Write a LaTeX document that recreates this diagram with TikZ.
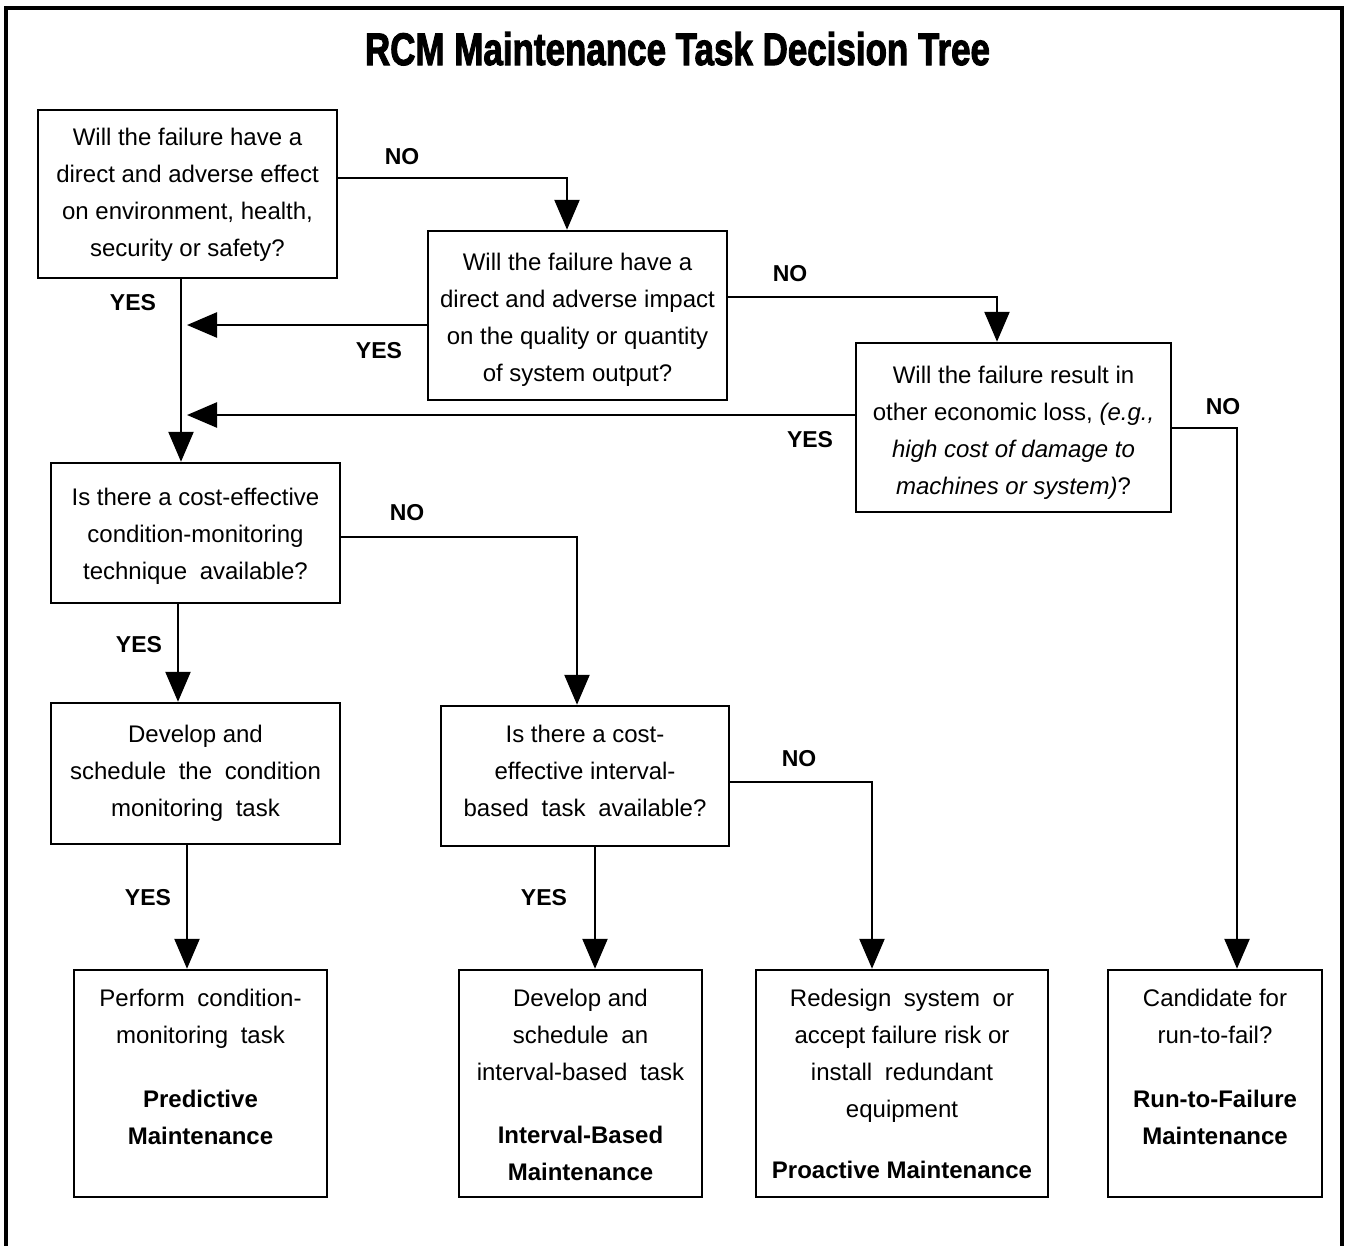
\documentclass[tikz,border=0pt]{standalone}
\usepackage{fontspec}
\setmainfont{Liberation Sans}
\newfontfamily\titlefont{Liberation Sans}[FakeBold=2.5]
\usetikzlibrary{arrows.meta}
\newcommand{\xs}{\hspace{6pt}\space}
\begin{document}
\begin{tikzpicture}[x=1pt,y=-1pt,
  box/.style={draw,line width=2.5pt,inner sep=0pt},
  txt/.style={font=\fontsize{24}{37}\selectfont,align=center,inner sep=0pt,anchor=north},
  lbl/.style={font=\fontsize{23}{23}\selectfont\bfseries,inner sep=0pt},
  arr/.style={line width=2.5pt,-{Triangle[length=30pt,width=25pt]}},
  conn/.style={line width=2.5pt}]
\useasboundingbox (0,0) rectangle (1348,1245);
% frame
\draw[line width=4.5pt,miter limit=10] (6,1260) -- (6,8) -- (1342,8) -- (1342,1260);
% title
\node[inner sep=0pt,anchor=base] (title) at (677.5,65)
  {\resizebox{625pt}{33pt}{\titlefont\bfseries RCM Maintenance Task Decision Tree}};
% boxes
\node[box,minimum width=299pt,minimum height=168pt] (b1) at (187.5,194) {};
\node[box,minimum width=299pt,minimum height=169pt] (b2) at (577.5,315.5) {};
\node[box,minimum width=315pt,minimum height=169pt] (b3) at (1013.5,427.5) {};
\node[box,minimum width=289pt,minimum height=140pt] (b4) at (195.5,533) {};
\node[box,minimum width=289pt,minimum height=141pt] (b5) at (195.5,773.5) {};
\node[box,minimum width=288pt,minimum height=140pt] (b6) at (585,776) {};
\node[box,minimum width=253pt,minimum height=227pt] (b7) at (200.5,1083.5) {};
\node[box,minimum width=243pt,minimum height=227pt] (b8) at (580.5,1083.5) {};
\node[box,minimum width=292pt,minimum height=227pt] (b9) at (902,1083.5) {};
\node[box,minimum width=214pt,minimum height=227pt] (b10) at (1215,1083.5) {};
% texts
\node[txt] (t1) at (187.5,119) {\strut Will the failure have a\\direct and adverse effect\\on environment, health,\\security or safety?};
\node[txt] (t2) at (577.5,244) {\strut Will the failure have a\\direct and adverse impact\\on the quality or quantity\\of system output?};
\node[txt] (t3) at (1013.5,357) {\strut Will the failure result in\\other economic loss, \textit{(e.g.,}\\\textit{high cost of damage to}\\\textit{machines or system)}?};
\node[txt] (t4) at (195.5,479) {\strut Is there a cost-effective\\condition-monitoring\\technique\xs available?};
\node[txt] (t5) at (195.5,716) {\strut Develop and\\schedule\xs the\xs condition\\monitoring\xs task};
\node[txt] (t6) at (585,716) {\strut Is there a cost-\\effective interval-\\based\xs task\xs available?};
\node[txt] (t7) at (200.5,980) {\strut Perform\xs condition-\\monitoring\xs task\\[27pt]\textbf{Predictive}\\\textbf{Maintenance}};
\node[txt] (t8) at (580.5,980) {\strut Develop and\\schedule\xs an\\interval-based\xs task\\[26pt]\textbf{Interval-Based}\\\textbf{Maintenance}};
\node[txt] (t9) at (902,980) {\strut Redesign\xs system\xs or\\accept failure risk or\\install\xs redundant\\equipment\\[24pt]\textbf{Proactive Maintenance}};
\node[txt] (t10) at (1215,980) {\strut Candidate for\\run-to-fail?\\[27pt]\textbf{Run-to-Failure}\\\textbf{Maintenance}};
% bend / junction coordinates
\coordinate (k1) at (567,178);
\coordinate (k3) at (997,297);
\coordinate (k4) at (1237,428);
\coordinate (k5) at (577,537);
\coordinate (k6) at (872,782);
\coordinate (j1) at (187,325);
\coordinate (j2) at (187,415);
\coordinate (xa) at (181,0);
\coordinate (xb) at (178,0);
\coordinate (xc) at (187,0);
\coordinate (xd) at (595,0);
% connectors
\draw[arr] (b1.east |- k1) -- (k1) -- (k1 |- b2.north);
\draw[arr] (b1.south -| xa) -- (b4.north -| xa);
\draw[arr] (b2.west |- j1) -- (j1);
\draw[arr] (b3.west |- j2) -- (j2);
\draw[arr] (b2.east |- k3) -- (k3) -- (k3 |- b3.north);
\draw[arr] (b3.east |- k4) -- (k4) -- (k4 |- b10.north);
\draw[arr] (b4.east |- k5) -- (k5) -- (k5 |- b6.north);
\draw[arr] (b4.south -| xb) -- (b5.north -| xb);
\draw[arr] (b5.south -| xc) -- (b7.north -| xc);
\draw[arr] (b6.south -| xd) -- (b8.north -| xd);
\draw[arr] (b6.east |- k6) -- (k6) -- (k6 |- b9.north);
% labels
\node[lbl] (no1) at (402,157) {NO};
\node[lbl] (yes1) at (133,303) {YES};
\node[lbl] (yes2) at (379,351) {YES};
\node[lbl] (no2) at (790,274) {NO};
\node[lbl] (no3) at (1223,407) {NO};
\node[lbl] (yes3) at (810,440) {YES};
\node[lbl] (no4) at (407,513) {NO};
\node[lbl] (yes4) at (139,645) {YES};
\node[lbl] (no5) at (799,759) {NO};
\node[lbl] (yes5) at (148,898) {YES};
\node[lbl] (yes6) at (544,898) {YES};
\end{tikzpicture}
\end{document}
